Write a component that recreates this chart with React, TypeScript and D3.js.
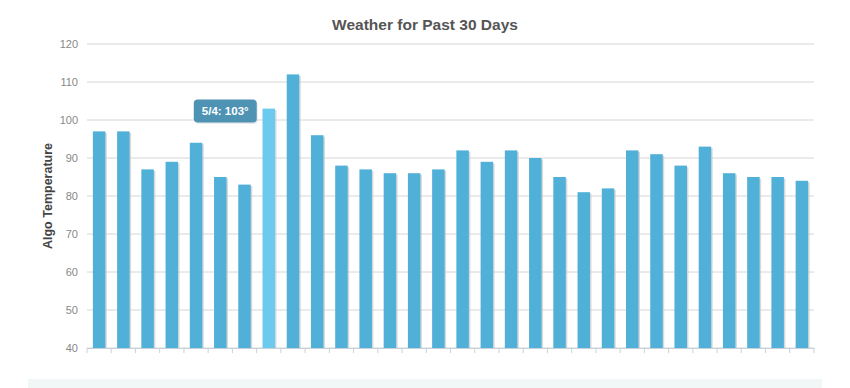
import React from "react";
import * as d3 from "d3";

const days = [
  "4/27", "4/28", "4/29", "4/30", "5/1", "5/2", "5/3", "5/4", "5/5", "5/6",
  "5/7", "5/8", "5/9", "5/10", "5/11", "5/12", "5/13", "5/14", "5/15", "5/16",
  "5/17", "5/18", "5/19", "5/20", "5/21", "5/22", "5/23", "5/24", "5/25", "5/26",
];
const temps = [
  97, 97, 87, 89, 94, 85, 83, 103, 112, 96,
  88, 87, 86, 86, 87, 92, 89, 92, 90, 85,
  81, 82, 92, 91, 88, 93, 86, 85, 85, 84,
];
const yTicks = [40, 50, 60, 70, 80, 90, 100, 110, 120];
const highlightIndex = 7;
const title = "Weather for Past 30 Days";
const yTitle = "Algo Temperature";

const W = 850;
const H = 388;
const left = 87;
const right = 814;
const top = 44;
const bottom = 348;

export default function App() {
  const x = d3.scaleBand<string>().domain(days).range([left, right]).padding(0);
  const y = d3.scaleLinear().domain([40, 120]).range([bottom, top]);
  const bw = 12.5;

  const hx = (x(days[highlightIndex]) as number) + x.bandwidth() / 2;
  const hy = y(temps[highlightIndex]);

  return (
    <svg
      width={W}
      height={H}
      style={{ position: "absolute", left: 0, top: 0, display: "block" }}
      fontFamily="'Liberation Sans', Arial, sans-serif"
    >
      <rect x={0} y={0} width={W} height={H} fill="#ffffff" />
      <rect x={28} y={379} width={794} height={9} fill="#f1f6f7" />
      <text x={425} y={30} textAnchor="middle" fontSize={15.5} fontWeight="bold" fill="#555555">
        {title}
      </text>
      {yTicks.map((t) => (
        <g key={t}>
          <line x1={left} x2={right} y1={y(t)} y2={y(t)} stroke="#d6d6d6" strokeWidth={1} />
          <text x={78} y={y(t) + 4} textAnchor="end" fontSize={11} fill="#888888">
            {t}
          </text>
        </g>
      ))}
      <text
        transform={`translate(52,${(top + bottom) / 2}) rotate(-90)`}
        textAnchor="middle"
        fontSize={12.5}
        fontWeight="bold"
        fill="#444444"
      >
        {yTitle}
      </text>
      {days.map((d, i) => {
        const bx = (x(d) as number) + (x.bandwidth() - bw) / 2;
        const by = y(temps[i]);
        return (
          <g key={d}>
            <rect x={bx + 1.5} y={by + 1.5} width={bw} height={bottom - by - 1.5} fill="#c4c9cc" opacity={0.7} />
            <rect
              x={bx}
              y={by}
              width={bw}
              height={bottom - by}
              fill={i === highlightIndex ? "#6dcaef" : "#51b0d8"}
            />
          </g>
        );
      })}
      <line x1={left} x2={right} y1={bottom + 0.5} y2={bottom + 0.5} stroke="#c8d0d8" strokeWidth={1} />
      {d3.range(days.length + 1).map((k) => {
        const tx = left + k * x.step();
        return <line key={k} x1={tx} x2={tx} y1={bottom} y2={bottom + 5} stroke="#c8d0d8" strokeWidth={1} />;
      })}
      <g>
        <rect x={hx - 75} y={hy - 9} width={63} height={23} rx={4} fill="#000" opacity={0.08} transform="translate(1,1.5)" />
        <rect x={hx - 75} y={hy - 9} width={63} height={23} rx={4} fill="#4f93b4" />
        <text x={hx - 43.5} y={hy + 6.5} textAnchor="middle" fontSize={11.5} fontWeight="bold" fill="#ffffff">
          {`${days[highlightIndex]}: ${temps[highlightIndex]}°`}
        </text>
      </g>
    </svg>
  );
}
